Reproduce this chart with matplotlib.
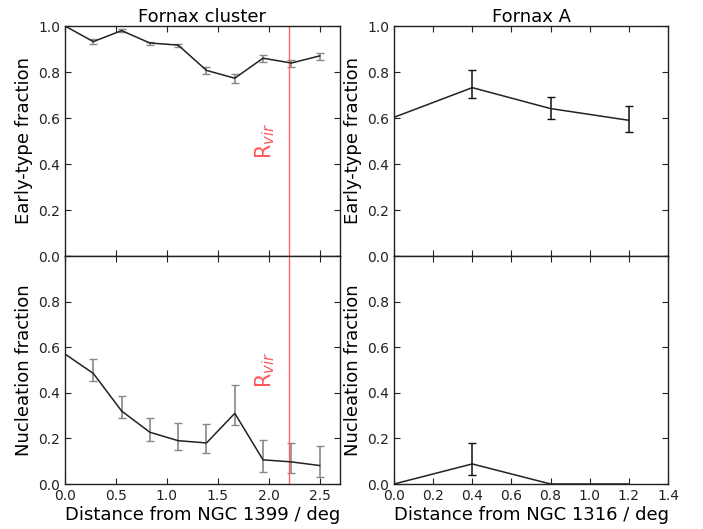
import matplotlib
matplotlib.use("Agg")
import matplotlib.pyplot as plt
import numpy as np

# Fornax cluster data
fc_x = [0.0, 0.278, 0.556, 0.833, 1.111, 1.389, 1.667, 1.944, 2.222, 2.5]
fc_early = [1.0, 0.932, 0.98, 0.926, 0.917, 0.807, 0.773, 0.86, 0.839, 0.87]
fc_early_lo = [0.0, 0.012, 0.008, 0.008, 0.008, 0.015, 0.02, 0.016, 0.016, 0.016]
fc_early_hi = [0.0, 0.010, 0.006, 0.006, 0.006, 0.013, 0.018, 0.014, 0.014, 0.014]
fc_nuc = [0.57, 0.485, 0.32, 0.227, 0.19, 0.18, 0.31, 0.106, 0.097, 0.081]
fc_nuc_lo = [0.0, 0.035, 0.032, 0.039, 0.04, 0.046, 0.053, 0.052, 0.049, 0.052]
fc_nuc_hi = [0.0, 0.063, 0.066, 0.062, 0.079, 0.083, 0.123, 0.089, 0.082, 0.086]

# Fornax A data
fa_x = [0.0, 0.4, 0.8, 1.2]
fa_early = [0.603, 0.732, 0.641, 0.59]
fa_early_lo = [0.0, 0.046, 0.044, 0.049]
fa_early_hi = [0.0, 0.076, 0.051, 0.061]
fa_nuc = [0.0, 0.088, 0.0, 0.0]
fa_nuc_lo = [0.0, 0.048, 0.0, 0.0]
fa_nuc_hi = [0.0, 0.091, 0.0, 0.0]

r_vir = 2.2

plt.rcParams['font.family'] = ['DejaVu Sans']
plt.rcParams['mathtext.fontset'] = 'dejavusans'

fig = plt.figure(figsize=(7.03, 5.29), dpi=100)
L0, L1 = 65/703, 340/703
R0, R1 = 394/703, 668/703
B0, Bm, B1 = 1-484/529, 1-256/529, 1-26/529

ax_tl = fig.add_axes([L0, Bm, L1-L0, B1-Bm])
ax_bl = fig.add_axes([L0, B0, L1-L0, Bm-B0])
ax_tr = fig.add_axes([R0, Bm, R1-R0, B1-Bm])
ax_br = fig.add_axes([R0, B0, R1-R0, Bm-B0])

def style(ax):
    ax.tick_params(direction='in', top=True, right=True, length=4, width=0.8,
                   labelsize=10, colors='#222222')
    for s in ax.spines.values():
        s.set_linewidth(1.0)
        s.set_color('#222222')

ekw_left = dict(color='#222222', ecolor='#888888', elinewidth=1.2, capsize=3, capthick=1.0, lw=1.1)
ekw_right = dict(color='#222222', ecolor='#111111', elinewidth=1.1, capsize=3, capthick=1.0, lw=1.1)

def eb(ax, x, y, lo, hi, kw):
    mask = [(a + b) > 0 for a, b in zip(lo, hi)]
    ax.errorbar(x, y, yerr=[lo, hi], errorevery=mask, **kw)

eb(ax_tl, fc_x, fc_early, fc_early_lo, fc_early_hi, ekw_left)
eb(ax_bl, fc_x, fc_nuc, fc_nuc_lo, fc_nuc_hi, ekw_left)
eb(ax_tr, fa_x, fa_early, fa_early_lo, fa_early_hi, ekw_right)
eb(ax_br, fa_x, fa_nuc, fa_nuc_lo, fa_nuc_hi, ekw_right)

for ax in (ax_tl, ax_bl):
    ax.set_xlim(0, 2.7)
    ax.set_xticks([0.0, 0.5, 1.0, 1.5, 2.0, 2.5])
    ax.axvline(r_vir, color='#ff6666', lw=1.0)
    ax.text(2.08, 0.5, r'R$_{vir}$', color='#ff5555', rotation=90, ha='right',
            va='center', fontsize=15)
for ax in (ax_tr, ax_br):
    ax.set_xlim(0, 1.4)
    ax.set_xticks(np.arange(0, 1.41, 0.2))

for ax in (ax_tl, ax_tr):
    ax.set_ylim(0, 1.0)
    ax.set_yticks([0.0, 0.2, 0.4, 0.6, 0.8, 1.0])
    ax.tick_params(labelbottom=False)
    ax.set_ylabel('Early-type fraction', fontsize=13)
for ax in (ax_bl, ax_br):
    ax.set_ylim(0, 1.0)
    ax.set_yticks([0.0, 0.2, 0.4, 0.6, 0.8, 1.0])
    ax.set_yticklabels(['0.0', '0.2', '0.4', '0.6', '0.8', ''])
    ax.set_ylabel('Nucleation fraction', fontsize=13)

for ax in (ax_tl, ax_bl, ax_tr, ax_br):
    ax.set_xticklabels([f'{t:.1f}' for t in ax.get_xticks()])
    style(ax)

ax_tl.set_title('Fornax cluster', fontsize=13, pad=3)
ax_tr.set_title('Fornax A', fontsize=13, pad=3)
ax_bl.set_xlabel('Distance from NGC 1399 / deg', fontsize=13, labelpad=2)
ax_br.set_xlabel('Distance from NGC 1316 / deg', fontsize=13, labelpad=2)

fig.savefig('out.png', dpi=100)
